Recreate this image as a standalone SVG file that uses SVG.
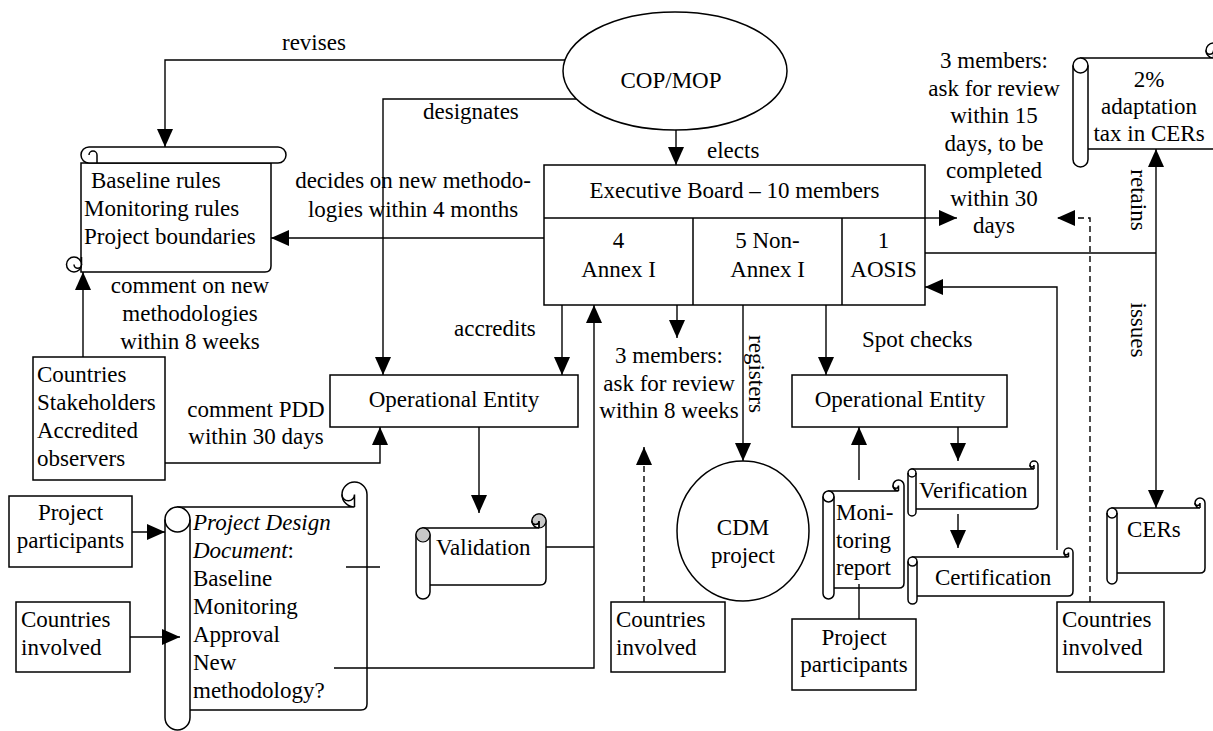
<svg xmlns="http://www.w3.org/2000/svg" width="1213" height="731" viewBox="0 0 1213 731">
<defs>
<style>
text{font-family:"Liberation Serif","Times New Roman",serif;font-size:23px;fill:#000}
.m{text-anchor:middle}
.n{fill:#fff;stroke:#000;stroke-width:1.5}
.l{fill:none;stroke:#000;stroke-width:1.5}
.g{fill:#c8c8c8;stroke:#000;stroke-width:1.2}
.c{fill:none;stroke:#000;stroke-width:1.4}
.a{marker-end:url(#ah)}
.d{stroke-dasharray:6 4}
</style>
<marker id="ah" markerWidth="18" markerHeight="16" refX="18" refY="8" orient="auto" markerUnits="userSpaceOnUse"><path d="M0,0 L18,8 L0,16 Z" fill="#000"/></marker>
</defs>
<rect width="1213" height="731" fill="#fff"/>

<g id="cop">
<ellipse class="n" cx="675" cy="71" rx="112" ry="59"/>
<text class="m" x="671" y="88">COP/MOP</text>
</g>

<g id="rules">
<path class="n" d="M81,163 H271 V266 Q271,272 265,272 H81 Z"/>
<rect class="n" x="81" y="147" width="205" height="16" rx="8"/>
<path class="l" d="M89,155 A4,4 0 0 1 97,155 V163"/>
<circle class="n" cx="74" cy="264.5" r="7.5"/>
<path class="l" d="M74,264.5 A3.75,3.75 0 0 0 81.5,264.5 V257"/>
<text x="91" y="188">Baseline rules</text>
<text x="84" y="216">Monitoring rules</text>
<text x="84" y="244">Project boundaries</text>
</g>

<g id="exec">
<rect class="n" x="544" y="165" width="381" height="140"/>
<path class="l" d="M544,218 H925 M693,218 V305 M842,218 V305"/>
<text class="m" x="734.5" y="198">Executive Board – 10 members</text>
<text class="m" x="618.5" y="248">4</text>
<text class="m" x="618.5" y="277">Annex I</text>
<text class="m" x="767.5" y="248">5 Non-</text>
<text class="m" x="767.5" y="277">Annex I</text>
<text class="m" x="883.5" y="248">1</text>
<text class="m" x="883.5" y="277">AOSIS</text>
</g>

<g id="tax">
<path class="n" d="M1080.5,58 H1213.5 A7.5,7.5 0 1 1 1221,50.5 V143 Q1221,149 1215,149 H1080.5 Z"/>
<path class="l" d="M1213.5,58 V50.5 A3.75,3.75 0 0 1 1206,50.5"/>
<rect class="n" x="1073" y="58" width="15" height="109" rx="7.5"/>
<path class="l" d="M1073,65.5 A7.5,7.5 0 0 0 1088,65.5"/>
<text class="m" x="1149" y="87">2%</text>
<text class="m" x="1149" y="114">adaptation</text>
<text class="m" x="1149" y="141">tax in CERs</text>
</g>

<g id="stakeholders">
<rect class="n" x="33" y="357" width="132" height="123"/>
<text x="37" y="382">Countries</text>
<text x="37" y="410">Stakeholders</text>
<text x="37" y="438">Accredited</text>
<text x="37" y="466">observers</text>
</g>

<g id="oe1">
<rect class="n" x="330" y="375" width="248" height="52"/>
<text class="m" x="454" y="407">Operational Entity</text>
</g>

<g id="pp1">
<rect class="n" x="9" y="496" width="123" height="71"/>
<text class="m" x="70.5" y="520">Project</text>
<text class="m" x="70.5" y="548">participants</text>
</g>

<g id="ci1">
<rect class="n" x="16" y="602" width="114" height="70"/>
<text x="21" y="627">Countries</text>
<text x="21" y="655">involved</text>
</g>

<g id="pdd">
<path class="n" d="M177.5,507 H354.5 A12.5,12.5 0 1 1 367,494.5 V704 Q367,710 361,710 H177.5 Z"/>
<path class="l" d="M354.5,507 V494.5 A6.25,6.25 0 0 1 342,494.5"/>
<rect class="n" x="165" y="507" width="25" height="223" rx="12.5"/>
<path class="l" d="M165,519.5 A12.5,12.5 0 0 0 190,519.5"/>
<text x="193" y="530" font-style="italic">Project Design</text>
<text x="193" y="558"><tspan font-style="italic">Document</tspan>:</text>
<text x="193" y="586">Baseline</text>
<text x="193" y="614">Monitoring</text>
<text x="193" y="642">Approval</text>
<text x="193" y="670">New</text>
<text x="193" y="698">methodology?</text>
</g>

<g id="validation">
<path class="n" d="M423,528 H539 A7,7 0 1 1 546,521 V579 Q546,585 540,585 H423 Z"/>
<path class="g" d="M539,528 V521 A3.5,3.5 0 0 1 532,521 A7,7 0 0 1 539,514 A7,7 0 0 1 546,521 A7,7 0 0 1 539,528 Z"/>
<path class="l" d="M539,528 V521 A3.5,3.5 0 0 1 532,521"/>
<rect class="n" x="416" y="528" width="14" height="71" rx="7"/>
<path class="g" d="M416,535 A7,7 0 0 1 430,535 A7,7 0 0 1 416,535 Z"/>
<text x="436" y="555">Validation</text>
</g>

<g id="cdm">
<ellipse class="n" cx="743" cy="531" rx="66" ry="70"/>
<text class="m" x="743" y="535">CDM</text>
<text class="m" x="743" y="563">project</text>
</g>

<g id="ci2">
<rect class="n" x="611" y="602" width="114" height="70"/>
<text x="616" y="627">Countries</text>
<text x="616" y="655">involved</text>
</g>

<g id="oe2">
<rect class="n" x="792" y="375" width="215" height="52"/>
<text class="m" x="900" y="407">Operational Entity</text>
</g>

<g id="monitoring">
<path class="n" d="M828.5,491 H898.5 A5.5,5.5 0 1 1 904,485.5 V583 Q904,588 899,588 H828.5 Z"/>
<path class="l" d="M898.5,491 V485.5 A2.75,2.75 0 0 1 893,485.5"/>
<rect class="n" x="823" y="491" width="11" height="108" rx="5.5"/>
<path class="l" d="M823,496.5 A5.5,5.5 0 0 0 834,496.5"/>
<text x="836" y="520">Moni-</text>
<text x="836" y="548">toring</text>
<text x="836" y="575">report</text>
</g>

<g id="verification">
<path class="n" d="M912,469 H1034 A4,4 0 1 1 1038,465 V504 Q1038,509 1033,509 H912 Z"/>
<path class="l" d="M1034,469 V465 A2,2 0 0 1 1030,465"/>
<rect class="n" x="908" y="469" width="8" height="47" rx="4"/>
<path class="l" d="M908,473 A4,4 0 0 0 916,473"/>
<text x="919" y="498">Verification</text>
</g>

<g id="certification">
<path class="n" d="M912.5,557 H1068.5 A4.5,4.5 0 1 1 1073,552.5 V591 Q1073,596 1068,596 H912.5 Z"/>
<path class="l" d="M1068.5,557 V552.5 A2.25,2.25 0 0 1 1064,552.5"/>
<rect class="n" x="908" y="557" width="9" height="47" rx="4.5"/>
<path class="l" d="M908,561.5 A4.5,4.5 0 0 0 917,561.5"/>
<text x="935" y="585">Certification</text>
</g>

<g id="pp2">
<rect class="n" x="792" y="619" width="124" height="71"/>
<text class="m" x="854" y="645">Project</text>
<text class="m" x="854" y="672">participants</text>
</g>

<g id="ci3">
<rect class="n" x="1057" y="602" width="107" height="70"/>
<text x="1062" y="627">Countries</text>
<text x="1062" y="655">involved</text>
</g>

<g id="cers">
<path class="n" d="M1112,508 H1200 A5,5 0 1 1 1205,503 V568 Q1205,573 1200,573 H1112 Z"/>
<path class="l" d="M1200,508 V503 A2.5,2.5 0 0 1 1195,503"/>
<rect class="n" x="1107" y="508" width="10" height="76" rx="5"/>
<path class="l" d="M1107,513 A5,5 0 0 0 1117,513"/>
<text x="1127" y="537" font-size="27">CERs</text>
</g>

<g id="connectors">
<path class="c a" d="M565,60 H165 V147"/>
<path class="c a" d="M576,99 H383 V375"/>
<path class="c a" d="M544,238 H271"/>
<path class="c a" d="M676,130 V165"/>
<path class="c a" d="M925,218 H957"/>
<path class="c d a" d="M1090,602 V218 H1057"/>
<path class="c" d="M925,253 H1156"/>
<path class="c a" d="M1156,253 V149"/>
<path class="c a" d="M1156,253 V508"/>
<path class="c a" d="M1057,550 V287 H925"/>
<path class="c a" d="M562,305 V375"/>
<path class="c a" d="M334,668 H594 V305"/>
<path class="c" d="M546,547 H594"/>
<path class="c a" d="M677,305 V338"/>
<path class="c a" d="M743,305 V461"/>
<path class="c a" d="M826,305 V375"/>
<path class="c d a" d="M644,602 V447"/>
<path class="c a" d="M479,427 V513"/>
<path class="c a" d="M165,463 H380 V427"/>
<path class="c" d="M346,567 H380"/>
<path class="c a" d="M83,357 V272"/>
<path class="c a" d="M132,532 H165"/>
<path class="c a" d="M130,637 H180"/>
<path class="c a" d="M958,427 V461"/>
<path class="c a" d="M958,514 V548"/>
<path class="c a" d="M859,480 V427"/>
<path class="c" d="M859,584 V619"/>
</g>

<g id="labels">
<text x="282" y="50">revises</text>
<text x="423" y="119">designates</text>
<text class="m" x="413" y="188">decides on new methodo-</text>
<text class="m" x="413" y="217">logies within 4 months</text>
<text x="707" y="158">elects</text>
<text class="m" x="994" y="68">3 members:</text>
<text class="m" x="994" y="95.5">ask for review</text>
<text class="m" x="994" y="123">within 15</text>
<text class="m" x="994" y="150.5">days, to be</text>
<text class="m" x="994" y="178">completed</text>
<text class="m" x="994" y="205.5">within 30</text>
<text class="m" x="994" y="233">days</text>
<text class="m" transform="translate(1131,200) rotate(90)">retains</text>
<text class="m" transform="translate(1131,330) rotate(90)">issues</text>
<text class="m" transform="translate(749,374) rotate(90)">registers</text>
<text class="m" x="190" y="293">comment on new</text>
<text class="m" x="190" y="321">methodologies</text>
<text class="m" x="190" y="349">within 8 weeks</text>
<text class="m" x="256" y="417">comment PDD</text>
<text class="m" x="256" y="444">within 30 days</text>
<text x="454" y="336">accredits</text>
<text class="m" x="669" y="363">3 members:</text>
<text class="m" x="669" y="391">ask for review</text>
<text class="m" x="669" y="418">within 8 weeks</text>
<text x="862" y="347">Spot checks</text>
</g>
</svg>
